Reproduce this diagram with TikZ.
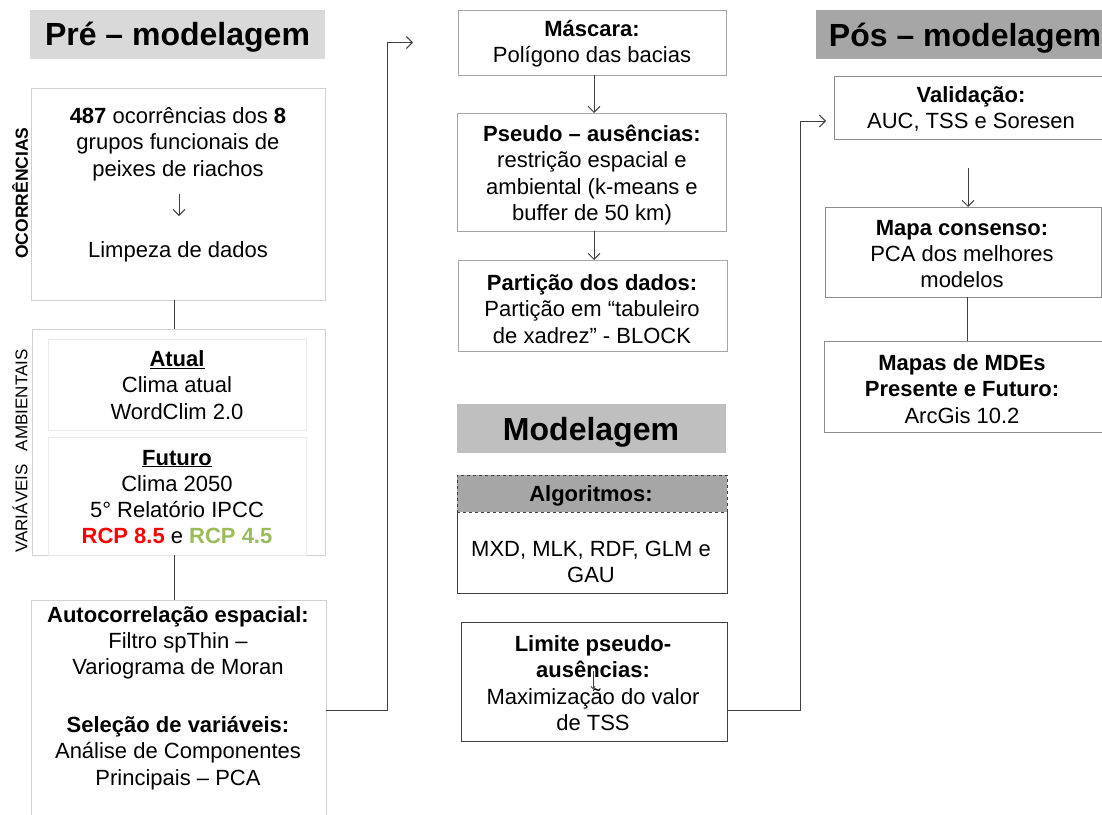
\documentclass[tikz,border=0pt]{standalone}
\usepackage{fontspec}
\setmainfont{Liberation Sans}
\usetikzlibrary{arrows.meta,calc}
\definecolor{hdrA}{HTML}{D9D9D9}
\definecolor{hdrB}{HTML}{BFBFBF}
\definecolor{hdrC}{HTML}{A6A6A6}
\definecolor{lightline}{HTML}{D0D0D0}
\definecolor{innerline}{HTML}{EAEAEA}
\definecolor{midline}{HTML}{A6A6A6}
\definecolor{darkline}{HTML}{404040}
\definecolor{posline}{HTML}{8C8C8C}
\definecolor{cline}{HTML}{404040}
\definecolor{rcpred}{HTML}{FF0000}
\definecolor{rcpgreen}{HTML}{9BBB59}
\begin{document}
\begin{tikzpicture}[x=1pt,y=-1pt,
  box/.style={rectangle, inner sep=0pt, outer sep=0pt, anchor=north west, line width=1pt},
  txt/.style={font=\fontsize{22}{26.3}\selectfont, align=center, inner sep=0pt},
  hdr/.style={font=\fontsize{32}{38}\selectfont\bfseries, inner sep=0pt},
  side/.style={font=\fontsize{17}{20}\selectfont, inner sep=0pt, rotate=90},
  conn/.style={draw=cline, line width=1pt},
  arr/.style={conn, -{Straight Barb[length=6pt,width=12pt,line width=1pt]}},
]
\useasboundingbox (0,0) rectangle (1102,814);
\clip (0,0) rectangle (1102,814);
\fill[white] (0,0) rectangle (1102,814);

% ---------------- Pre-modelagem ----------------
\node[box, fill=hdrA, minimum width=295pt, minimum height=49pt] (prehdr) at (30,10) {};
\node[hdr] (pretitle) at (177.5,37) {Pré – modelagem};

\node[box, draw=lightline, minimum width=294pt, minimum height=212pt] (occ) at (31,88) {};
\node[txt] (occtxt) at (178,144) {\textbf{487} ocorrências dos \textbf{8}\\grupos funcionais de\\peixes de riachos};
\node[txt] (limp) at (178,252) {Limpeza de dados};
\coordinate (oa1) at (179,194);
\coordinate (oa2) at (179,216);
\draw[arr] (oa1) -- (oa2);
\node[side, font=\fontsize{17.5}{20}\selectfont\bfseries] (occlbl) at (20,193) {OCORRÊNCIAS};

\node[box, draw=lightline, minimum width=293pt, minimum height=226pt] (var) at (32,329) {};
\node[box, draw=innerline, minimum width=258pt, minimum height=91pt] (atual) at (48,339) {};
\node[box, draw=innerline, minimum width=258pt, minimum height=118pt] (futuro) at (48,437) {};
\node[txt] (atualtxt) at (177,385) {\underline{\textbf{Atual}}\\Clima atual\\WordClim 2.0};
\node[txt] (futurotxt) at (177,497) {\underline{\textbf{Futuro}}\\Clima 2050\\5° Relatório IPCC\\\textbf{\textcolor{rcpred}{RCP 8.5}} e \textbf{\textcolor{rcpgreen}{RCP 4.5}}};
\node[side] (varlbl) at (20,451) {VARIÁVEIS\hspace{0.5em} AMBIENTAIS};

\node[box, draw=lightline, minimum width=295pt, minimum height=220pt] (auto) at (31,600) {};
\node[txt] (autotxt1) at (178,643) {\textbf{Autocorrelação espacial:}\\Filtro spThin –\\Variograma de Moran};
\node[txt] (autotxt2) at (178,753) {\textbf{Seleção de variáveis:}\\Análise de Componentes\\Principais – PCA};

\coordinate (xl) at (174,0);
\draw[conn] (occ.south -| xl) -- (var.north -| xl);
\draw[conn] (var.south -| xl) -- (auto.north -| xl);

% ---------------- Modelagem column ----------------
\node[box, draw=midline, minimum width=268pt, minimum height=65pt] (mask) at (458,10) {};
\node[txt] (masktxt) at (592,44) {\textbf{Máscara:}\\Polígono das bacias};

\node[box, draw=midline, minimum width=269pt, minimum height=118pt] (pseudo) at (457,113) {};
\node[txt] (pseudotxt) at (592,175) {\textbf{Pseudo – ausências:}\\restrição espacial e\\ambiental (k-means e\\buffer de 50 km)};

\node[box, draw=midline, minimum width=269pt, minimum height=91pt] (part) at (458,260) {};
\node[txt] (parttxt) at (592,309) {\textbf{Partição dos dados:}\\Partição em “tabuleiro\\de xadrez” - BLOCK};

\coordinate (xm) at (594,0);
\draw[arr] (mask.south -| xm) -- (pseudo.north -| xm);
\draw[arr] (pseudo.south -| xm) -- (part.north -| xm);

\node[box, fill=hdrB, minimum width=269pt, minimum height=49pt] (modhdr) at (457,404) {};
\node[hdr] (modtitle) at (591,432) {Modelagem};

\node[box, fill=hdrC, draw=darkline, dashed, minimum width=270pt, minimum height=37pt] (algohdr) at (457,475) {};
\node[txt, font=\fontsize{22}{26.3}\selectfont\bfseries] (algotitle) at (591,496) {Algoritmos:};
\node[box, minimum width=270pt, minimum height=81pt] (algo) at (457,512) {};
\draw[draw=darkline, line width=1pt] (algo.north west) -- (algo.south west) -- (algo.south east) -- (algo.north east);
\node[txt] (algotxt) at (591,562) {MXD, MLK, RDF, GLM e\\GAU};

\node[box, draw=darkline, minimum width=266pt, minimum height=119pt] (lim) at (461,622) {};
\node[txt] (limtxt) at (593,683) {\textbf{Limite pseudo-}\\\textbf{ausências:}\\Maximização do valor\\de TSS};
\coordinate (t1) at (593,671);
\coordinate (t2) at (593,689);
\draw[conn, line width=0.8pt, -{Straight Barb[length=2pt,width=4pt]}] (t1) -- (t2);

% connector pre -> mascara
\coordinate (xa) at (387,0);
\coordinate (ya) at (0,710);
\draw[arr, shorten >=45pt] (auto.east |- ya) -- (xa |- ya) -- (xa |- mask.west) -- (mask.west);

% ---------------- Pos-modelagem ----------------
\node[box, fill=hdrC, minimum width=300pt, minimum height=49pt] (poshdr) at (816,10) {};
\node[hdr] (postitle) at (965,38) {Pós – modelagem};

\node[box, draw=posline, minimum width=276pt, minimum height=63pt] (valid) at (834,76) {};
\node[txt] (validtxt) at (971,109) {\textbf{Validação:}\\AUC, TSS e Soresen};

\node[box, draw=posline, minimum width=276pt, minimum height=90pt] (mapa) at (825,207) {};
\node[txt] (mapatxt) at (962,254) {\textbf{Mapa consenso:}\\PCA dos melhores\\modelos};

\node[box, draw=posline, minimum width=278pt, minimum height=91pt] (mdes) at (824,341) {};
\node[txt] (mdestxt) at (962,389) {\textbf{Mapas de MDEs}\\\textbf{Presente e Futuro:}\\ArcGis 10.2};

\coordinate (va) at (968,168);
\draw[arr] (va) -- (mapa.north -| va);
\coordinate (xr) at (967,0);
\draw[conn] (mapa.south -| xr) -- (mdes.north -| xr);

% connector modelagem -> validacao
\coordinate (xb) at (800,0);
\coordinate (yb) at (0,121);
\draw[arr, shorten >=8pt] (lim.east |- ya) -- (xb |- ya) -- (xb |- yb) -- (valid.west |- yb);
\end{tikzpicture}
\end{document}
